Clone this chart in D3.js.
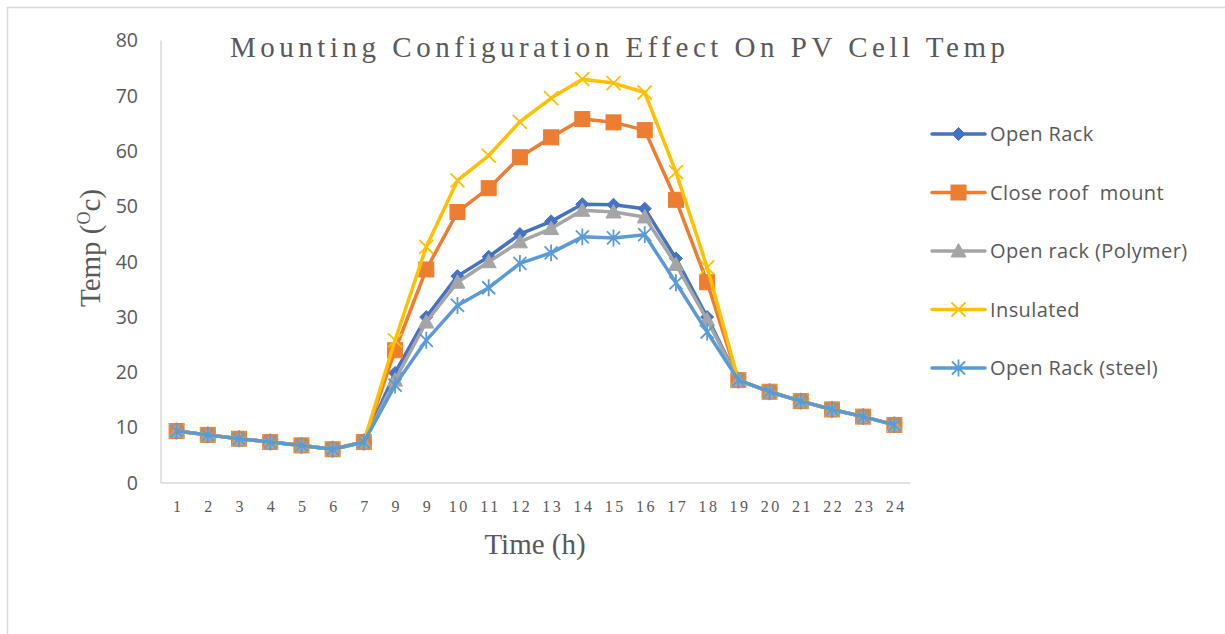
<!DOCTYPE html>
<html>
<head>
<meta charset="utf-8">
<script src="https://cdn.jsdelivr.net/npm/d3@7"></script>
<style>
  html, body { margin: 0; padding: 0; background: #fff; }
  svg { display: block; }
</style>
</head>
<body>
<svg id="chart" width="1225" height="634"></svg>
<script>
// ---- data ----
const hourLabels = ["1","2","3","4","5","6","7","9","9","10","11","12","13","14","15","16","17","18","19","20","21","22","23","24"];
const seriesNames = ["Open Rack", "Close roof  mount", "Open rack (Polymer)", "Insulated", "Open Rack (steel)"];
const openRack    = [9.4,8.7,8.0,7.4,6.8,6.1,7.4,19.9,30.0,37.4,40.9,45.0,47.3,50.4,50.3,49.6,40.6,30.0,18.6,16.5,14.8,13.3,12.0,10.5];
const closeRoof   = [9.4,8.7,8.0,7.4,6.8,6.1,7.4,24.0,38.6,49.0,53.3,58.9,62.5,65.8,65.2,63.8,51.2,36.3,18.6,16.5,14.8,13.3,12.0,10.5];
const openPolymer = [9.4,8.7,8.0,7.4,6.8,6.1,7.4,18.6,29.1,36.3,40.0,43.6,46.0,49.3,49.0,48.1,39.5,29.5,18.6,16.5,14.8,13.3,12.0,10.5];
const insulated   = [9.4,8.7,8.0,7.4,6.8,6.1,7.4,25.8,42.7,54.7,59.2,65.3,69.6,73.0,72.3,70.6,56.2,39.0,18.6,16.5,14.8,13.3,12.0,10.5];
const openSteel   = [9.4,8.7,8.0,7.4,6.8,6.1,7.4,17.7,25.8,32.1,35.3,39.7,41.6,44.5,44.3,44.9,36.2,27.3,18.6,16.5,14.8,13.3,12.0,10.5];
const yTicks = [0,10,20,30,40,50,60,70,80];

const seriesValues = [openRack, closeRoof, openPolymer, insulated, openSteel];
const seriesColors = ["#4472C4", "#ED7D31", "#A5A5A5", "#FFC000", "#5B9BD5"];
const seriesMarkers = ["diamond", "square", "triangle", "x", "star"];

// ---- layout ----
const svg = d3.select("#chart");
const plot = { left: 161, right: 910, top: 40.5, bottom: 483 };

svg.append("rect").attr("x", 7.5).attr("y", 7.5).attr("width", 1260).attr("height", 660)
  .attr("fill", "#fff").attr("stroke", "#d9d9d9").attr("stroke-width", 1.5);

const x = d3.scalePoint().domain(d3.range(hourLabels.length)).range([plot.left, plot.right]).padding(0.5);
const y = d3.scaleLinear().domain([0, 80]).range([plot.bottom, plot.top]);

// axes lines
svg.append("line").attr("x1", plot.left).attr("x2", plot.left).attr("y1", plot.top).attr("y2", plot.bottom)
  .attr("stroke", "#d9d9d9").attr("stroke-width", 1.5);
svg.append("line").attr("x1", plot.left).attr("x2", plot.right).attr("y1", plot.bottom).attr("y2", plot.bottom)
  .attr("stroke", "#d9d9d9").attr("stroke-width", 1.5);

// y tick labels
const yAxis = d3.axisLeft(y).tickValues(yTicks).tickSize(0).tickPadding(23);
const gy = svg.append("g").attr("transform", `translate(${plot.left},0)`).call(yAxis);
gy.select(".domain").remove();
gy.selectAll("text").attr("fill", "#595959").style("font-family", "'Open Sans', sans-serif").style("font-size", "19.5px");

// x tick labels
const xAxis = d3.axisBottom(x).tickFormat(i => hourLabels[i]).tickSize(0).tickPadding(18);
const gx = svg.append("g").attr("transform", `translate(0,${plot.bottom})`).call(xAxis);
gx.select(".domain").remove();
gx.selectAll("text").attr("fill", "#595959")
  .style("font-family", "'Liberation Serif', serif").style("font-size", "16px")
  .style("letter-spacing", "2.5px").attr("dx", "1.25px");

// titles
svg.append("text").attr("x", 230).attr("y", 57).attr("textLength", 775).attr("lengthAdjust", "spacing")
  .attr("fill", "#595959").style("font-family", "'Liberation Serif', serif").style("font-size", "29px")
  .text("Mounting Configuration Effect On PV Cell Temp");

svg.append("text").attr("x", 535).attr("y", 554).attr("text-anchor", "middle")
  .attr("fill", "#595959").style("font-family", "'Liberation Serif', serif").style("font-size", "29px")
  .text("Time (h)");

const yt = svg.append("text").attr("transform", "translate(100,248) rotate(-90)").attr("text-anchor", "middle")
  .attr("fill", "#595959").style("font-family", "'Liberation Serif', serif").style("font-size", "29px");
yt.append("tspan").text("Temp (");
yt.append("tspan").attr("dy", -10).style("font-size", "18px").text("O");
yt.append("tspan").attr("dy", 10).text("c)");

// markers
function drawMarker(g, type, color, cx, cy) {
  if (type === "diamond") {
    const r = 6.5;
    g.append("path").attr("d", `M${cx},${cy - r}L${cx + r},${cy}L${cx},${cy + r}L${cx - r},${cy}Z`)
      .attr("fill", color).attr("stroke", color).attr("stroke-width", 1);
  } else if (type === "square") {
    const s = 7.5;
    g.append("rect").attr("x", cx - s).attr("y", cy - s).attr("width", 2 * s).attr("height", 2 * s)
      .attr("fill", color).attr("stroke", color).attr("stroke-width", 1);
  } else if (type === "triangle") {
    const r = 7.5;
    g.append("path").attr("d", `M${cx},${cy - r}L${cx + r},${cy + r * 0.8}L${cx - r},${cy + r * 0.8}Z`)
      .attr("fill", color).attr("stroke", color).attr("stroke-width", 1);
  } else if (type === "x") {
    const r = 7;
    g.append("path").attr("d", `M${cx - r},${cy - r}L${cx + r},${cy + r}M${cx - r},${cy + r}L${cx + r},${cy - r}`)
      .attr("stroke", color).attr("stroke-width", 1.8).attr("fill", "none");
  } else if (type === "star") {
    const r = 6.5;
    g.append("path").attr("d", `M${cx - r},${cy - r}L${cx + r},${cy + r}M${cx - r},${cy + r}L${cx + r},${cy - r}M${cx},${cy - r * 1.3}L${cx},${cy + r * 1.3}`)
      .attr("stroke", color).attr("stroke-width", 1.8).attr("fill", "none");
  }
}

const line = d3.line().x((d, i) => x(i)).y(d => y(d));

seriesValues.forEach((vals, si) => {
  const g = svg.append("g");
  g.append("path").attr("d", line(vals)).attr("fill", "none")
    .attr("stroke", seriesColors[si]).attr("stroke-width", 3.5).attr("stroke-linejoin", "round").attr("stroke-linecap", "round");
  vals.forEach((v, i) => drawMarker(g, seriesMarkers[si], seriesColors[si], x(i), y(v)));
});

// legend
const legendY = d3.scaleLinear().domain([0, 4]).range([134, 368]);
seriesNames.forEach((name, si) => {
  const g = svg.append("g");
  const ly = legendY(si);
  g.append("line").attr("x1", 932).attr("x2", 985).attr("y1", ly).attr("y2", ly)
    .attr("stroke", seriesColors[si]).attr("stroke-width", 3.5).attr("stroke-linecap", "round");
  drawMarker(g, seriesMarkers[si], seriesColors[si], 958.5, ly);
  g.append("text").attr("x", 990).attr("y", ly + 7).attr("fill", "#595959")
    .style("font-family", "'Open Sans', sans-serif").style("font-size", "20px").style("letter-spacing", "0.4px")
    .style("white-space", "pre").attr("xml:space", "preserve").text(name);
});
</script>
</body>
</html>
